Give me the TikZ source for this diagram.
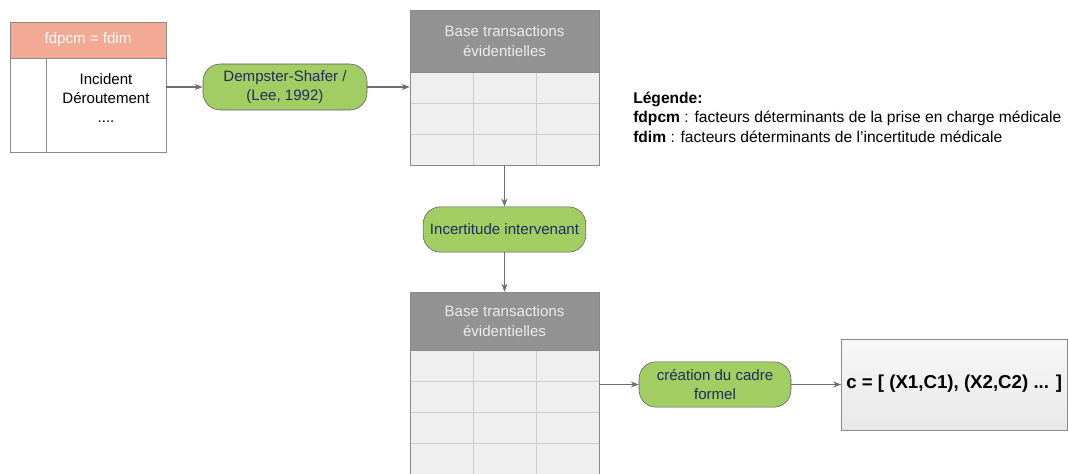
\documentclass[tikz,border=0pt]{standalone}
\usepackage{fontspec}
\setmainfont{Liberation Sans}
\usetikzlibrary{arrows.meta}
\definecolor{hdr}{HTML}{F2AA95}
\definecolor{grn}{HTML}{A2CD62}
\definecolor{gbd}{HTML}{55556E}
\definecolor{navy}{HTML}{1F2B5E}
\definecolor{tgray}{HTML}{929292}
\definecolor{cell}{HTML}{EFEFEF}
\definecolor{cline}{HTML}{CDCDCD}
\definecolor{edge}{HTML}{8A8A8A}
\definecolor{arr}{HTML}{6E6E6E}
\newcommand{\txt}{\fontsize{11.3}{14.5}\selectfont}

\tikzset{
  proc/.style={draw=gbd, fill=grn, rounded corners=13pt, text=navy, align=center, font=\txt, inner sep=0pt},
  thead/.style={draw=edge, fill=tgray, text=white!92!black, align=center, minimum width=141.75pt, inner sep=0pt, font=\txt},
  tbody/.style={draw=edge, minimum width=141.75pt, inner sep=0pt},
  cellbox/.style={fill=cell, draw=cline},
  link/.style={draw=arr, line width=0.8pt, -{Stealth[length=6pt,width=4.5pt]}},
}

\begin{document}
\begin{tikzpicture}[x=0.75pt,y=-0.75pt]
  \useasboundingbox (0,0) rectangle (1068,474);
  \clip (0,0) rectangle (1068,474);

  % bloc fdpcm = fdim
  \node[draw=edge, fill=hdr, text=white!94!hdr, minimum width=117pt, minimum height=27pt, inner sep=0pt, font=\txt] (fdp) at (88,40) {fdpcm = fdim};
  \node[draw=edge, fill=white, minimum width=117pt, minimum height=70.5pt, inner sep=0pt] (lbody) at (88,105) {};
  \draw[edge] (46,58) -- (46,152);
  \node[align=center, font=\txt] (evts) at (106,98) {Incident\\Déroutement\\....};

  \node[proc, minimum width=123pt, minimum height=34.5pt] (ds) at (285,87) {Dempster-Shafer /\\(Lee, 1992)};

  % premiere base
  \foreach \r in {0,1,2}
    \foreach \c in {0,1,2}
      \draw[cellbox] (410+63*\c,72+31*\r) rectangle ++(63,31);
  \node[tbody, minimum height=69.75pt] (tab1) at (504.5,118.5) {};
  \node[thead, minimum height=46.5pt] (th1) at (504.5,41) {Base transactions\\évidentielles};

  \node[proc, minimum width=122pt, minimum height=34pt] (inc) at (504.5,229.5) {Incertitude intervenant};

  % deuxieme base
  \foreach \r in {0,...,4}
    \foreach \c in {0,1,2}
      \draw[cellbox] (410+63*\c,350+31*\r) rectangle ++(63,31);
  \node[tbody, minimum height=116.25pt] (tab2) at (504.5,427.5) {};
  \node[thead, minimum height=43.5pt] (th2) at (504.5,321) {Base transactions\\évidentielles};

  \node[proc, minimum width=114pt, minimum height=34pt] (cadre) at (715,384.5) {création du cadre\\formel};

  \node[draw=edge, top color=white!97!black, bottom color=white!91!black, minimum width=169.5pt, minimum height=68pt, inner sep=0pt] (res) at (954.5,384.5) {};
  \node[anchor=west, font=\fontsize{14}{16}\selectfont\bfseries, inner sep=0pt] (cval) at (846,384) {c = [ (X1,C1), (X2,C2) ... ]};

  % legende
  \node[anchor=west, align=left, font=\fontsize{11.7}{14.6}\selectfont, inner sep=0pt] (leg) at (633,117) {\textbf{Légende:}\\\textbf{fdpcm} : facteurs déterminants de la prise en charge médicale\\\textbf{fdim} : facteurs déterminants de l'incertitude médicale};

  \draw[link] (ds.west -| lbody.east) -- (ds.west);
  \draw[link] (ds.east) -- (ds.east -| tab1.west);
  \draw[link] (tab1.south) -- (inc.north);
  \draw[link] (inc.south) -- (th2.north);
  \draw[link] (cadre.west -| tab2.east) -- (cadre.west);
  \draw[link] (cadre.east) -- (res.west);
\end{tikzpicture}
\end{document}
